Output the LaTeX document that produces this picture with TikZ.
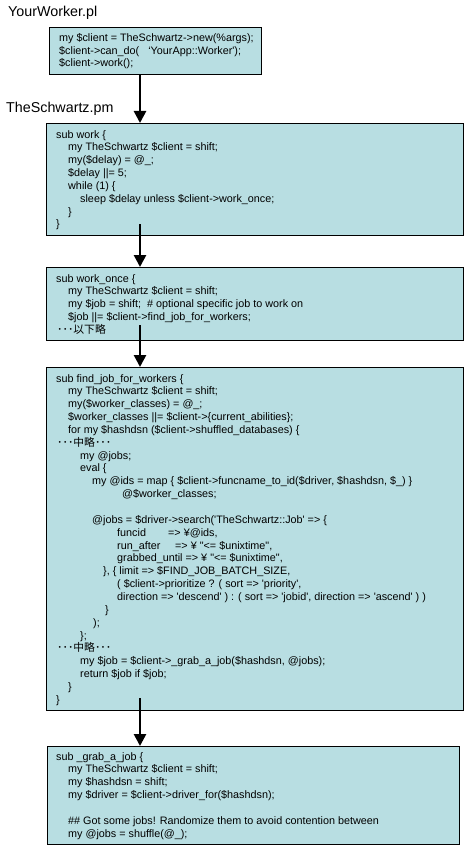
\documentclass[tikz,border=0pt]{standalone}
\usepackage{fontspec}
\newfontfamily\codefont{Liberation Sans}
\newfontfamily\jpfont{Noto Sans CJK JP}
\usetikzlibrary{arrows.meta}
\definecolor{boxfill}{RGB}{184,222,226}
\newcommand\codeind[1]{\hspace*{#1pt}}
\newcommand\jpdots{{\jpfont ･･･}}
\tikzset{
  codebox/.style={draw=black, line width=1.2pt, fill=boxfill, rectangle, inner sep=0pt, anchor=north west},
  codetext/.style={anchor=north west, inner sep=0pt, align=left, font=\codefont\fontsize{10.8}{12.85}\selectfont},
  filelabel/.style={anchor=base west, inner sep=0pt, font=\codefont\fontsize{14.3}{16}\selectfont},
  flow/.style={line width=2.6pt, -{Triangle[length=12pt,width=12pt]}}
}
\begin{document}
\begin{tikzpicture}[x=1pt,y=-1pt]
\useasboundingbox (0,0) rectangle (471,848);
\fill[white] (0,0) rectangle (471,848);

\node[filelabel] (l1) at (8,17) {YourWorker.pl};
\node[filelabel] (l2) at (6,113) {TheSchwartz.pm};

\node[codebox, minimum width=212pt, minimum height=47pt] (b1) at (49,27) {};
\node[codebox, minimum width=417pt, minimum height=112pt] (b2) at (46,123) {};
\node[codebox, minimum width=417pt, minimum height=73pt] (b3) at (46,267) {};
\node[codebox, minimum width=417pt, minimum height=343pt] (b4) at (46,367) {};
\node[codebox, minimum width=412pt, minimum height=98pt] (b5) at (47,746) {};

\node[codetext] (t1) at (59,33) {%
my \$client = TheSchwartz->new(\%args);\\
\$client->can\_do(\ \ \ ‘YourApp::Worker');\\
\$client->work();};

\node[codetext] (t2) at (56,130) {%
sub work \{\\
\codeind{12}my TheSchwartz \$client = shift;\\
\codeind{12}my(\$delay) = @\_;\\
\codeind{12}\$delay ||= 5;\\
\codeind{12}while (1) \{\\
\codeind{24}sleep \$delay unless \$client->work\_once;\\
\codeind{12}\}\\
\}};

\node[codetext] (t3) at (56,274) {%
sub work\_once \{\\
\codeind{12}my TheSchwartz \$client = shift;\\
\codeind{12}my \$job = shift;\ \ \# optional specific job to work on\\
\codeind{12}\$job ||= \$client->find\_job\_for\_workers;\\
\codeind{1}\jpdots{\jpfont 以下略}};

\node[codetext] (t4) at (56,374) {%
sub find\_job\_for\_workers \{\\
\codeind{12}my TheSchwartz \$client = shift;\\
\codeind{12}my(\$worker\_classes) = @\_;\\
\codeind{12}\$worker\_classes ||= \$client->\{current\_abilities\};\\
\codeind{12}for my \$hashdsn (\$client->shuffled\_databases) \{\\
\codeind{1}\jpdots{\jpfont 中略}\jpdots\\
\codeind{24}my @jobs;\\
\codeind{24}eval \{\\
\codeind{36}my @ids = map \{ \$client->funcname\_to\_id(\$driver, \$hashdsn, \$\_) \}\\
\codeind{66}@\$worker\_classes;\\
\mbox{}\\
\codeind{36}@jobs = \$driver->search('TheSchwartz::Job' => \{\\
\codeind{61}\makebox[51pt][l]{funcid}=> ¥@ids,\\
\codeind{61}\makebox[58pt][l]{run\_after}=> ¥ "<= \$unixtime",\\
\codeind{61}grabbed\_until => ¥ "<= \$unixtime",\\
\codeind{47}\}, \{ limit => \$FIND\_JOB\_BATCH\_SIZE,\\
\codeind{61}( \$client->prioritize ? ( sort => 'priority',\\
\codeind{61}direction => 'descend' ) : ( sort => 'jobid', direction => 'ascend' ) )\\
\codeind{49}\}\\
\codeind{37});\\
\codeind{24}\};\\
\codeind{1}\jpdots{\jpfont 中略}\jpdots\\
\codeind{24}my \$job = \$client->\_grab\_a\_job(\$hashdsn, @jobs);\\
\codeind{24}return \$job if \$job;\\
\codeind{12}\}\\
\}};

\node[codetext] (t5) at (56,752) {%
sub \_grab\_a\_job \{\\
\codeind{12}my TheSchwartz \$client = shift;\\
\codeind{12}my \$hashdsn = shift;\\
\codeind{12}my \$driver = \$client->driver\_for(\$hashdsn);\\
\mbox{}\\
\codeind{12}\#\# Got some jobs! Randomize them to avoid contention between\\
\codeind{12}my @jobs = shuffle(@\_);};

\coordinate (ax) at (140,0);
\coordinate (s2) at (140,224);
\coordinate (s3) at (140,325);
\coordinate (s4) at (140,698);
\draw[flow] (b1.south -| ax) -- (b2.north -| ax);
\draw[flow] (s2) -- (b3.north -| s2);
\draw[flow] (s3) -- (b4.north -| s3);
\draw[flow] (s4) -- (b5.north -| s4);
\end{tikzpicture}
\end{document}
